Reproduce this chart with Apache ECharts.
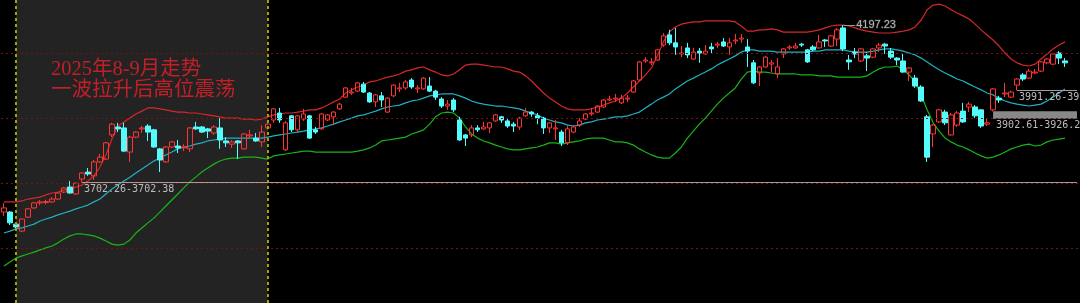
<!DOCTYPE html>
<html><head><meta charset="utf-8">
<script src="https://cdn.jsdelivr.net/npm/echarts@6/dist/echarts.min.js"></script>
<style>html,body{margin:0;padding:0;background:#000}#c{width:1080px;height:303px}</style>
</head><body><div id="c"></div>
<script>
const categories = Array.from({length: 180}, (_, i) => 'K' + (i + 1));
const opens = [3609,3609,3571,3549,3593,3622,3638,3639,3641,3650,3672,3688,3666,3713,3735,3723,3767,3776,3852,3877,3874,3798,3845,3871,3880,3868,3808,3767,3814,3817,3811,3808,3877,3877,3871,3858,3874,3833,3823,3833,3808,3849,3842,3830,3874,3899,3921,3805,3912,3868,3902,3912,3868,3871,3899,3909,3934,3971,3984,3990,4012,3984,3956,3975,3924,3975,3997,4000,4025,3997,3997,4006,3990,3965,3943,3962,3899,3852,3852,3874,3871,3874,3896,3909,3896,3886,3877,3912,3924,3912,3905,3874,3871,3861,3827,3861,3883,3902,3918,3924,3940,3962,3965,3953,3965,3987,4025,4085,4079,4088,4135,4167,4142,4107,4126,4091,4116,4107,4129,4135,4145,4129,4148,4154,4129,4079,4047,4066,4075,4044,4107,4126,4126,4138,4120,4129,4126,4151,4132,4154,4189,4088,4113,4085,4101,4097,4126,4138,4116,4094,4085,4050,4031,4003,3909,3855,3893,3924,3852,3883,3927,3940,3940,3931,3886,3931,3968,3981,3971,4009,4041,4031,4047,4053,4079,4075,4110,4085];
const closes = [3622,3575,3562,3587,3619,3638,3641,3642,3650,3669,3685,3669,3700,3732,3729,3767,3782,3827,3886,3871,3801,3845,3861,3874,3861,3814,3773,3814,3830,3811,3814,3874,3871,3861,3864,3877,3836,3827,3830,3827,3855,3852,3833,3861,3886,3934,3899,3890,3868,3912,3918,3842,3861,3918,3915,3924,3949,4000,3987,4016,3987,3956,3978,3962,3968,4009,4000,4019,4003,4000,4031,3990,3971,3943,3949,3931,3836,3842,3874,3868,3877,3890,3915,3899,3880,3880,3905,3924,3918,3905,3874,3890,3874,3827,3871,3877,3896,3918,3921,3943,3962,3965,3968,3968,3968,4022,4082,4088,4082,4120,4164,4142,4129,4110,4104,4113,4110,4116,4123,4138,4132,4142,4151,4157,4116,4016,4066,4097,4079,4066,4123,4129,4132,4135,4082,4120,4145,4148,4164,4183,4123,4082,4107,4123,4094,4123,4135,4132,4097,4088,4050,4063,4006,3959,3782,3883,3931,3890,3915,3921,3893,3949,3912,3880,3890,3997,3962,3984,3987,4028,4028,4053,4050,4082,4091,4107,4094,4079];
const lows = [3597,3568,3556,3546,3590,3619,3631,3633,3638,3648,3669,3667,3663,3702.38,3723,3710,3764,3773,3845,3861,3798,3767,3842,3858,3833,3811,3735,3764,3811,3795,3801,3798,3868,3858,3842,3852,3808,3814,3811,3776,3805,3842,3830,3814,3868,3890,3890,3801,3861,3861,3896,3839,3855,3868,3896,3883,3931,3968,3978,3987,3984,3953,3940,3940,3921,3971,3987,3994,3997,3984,3994,3987,3962,3937,3931,3924,3833,3817,3845,3861,3868,3858,3893,3890,3874,3861,3868,3909,3909,3886,3855,3858,3836,3817,3820,3858,3877,3899,3912,3921,3937,3959,3956,3949,3956,3984,4022,4079,4072,4085,4129,4135,4104,4097,4094,4088,4079,4104,4110,4126,4129,4104,4138,4142,4066,4012,4006,4063,4050,4031,4094,4120,4123,4129,4079,4116,4124,4129,4129,4132,4116,4057,4094,4082,4053,4094,4113,4107,4091,4072,4047,4022,4000,3956,3767,3814,3890,3883,3850,3877,3890,3924,3905,3874,3880,3926.2,3953,3971,3968,3992.15,4022,4028,4044,4050,4075,4072,4075,4066];
const highs = [3638,3612,3575,3589,3622,3641,3647,3648,3656,3672,3688,3707,3702.26,3735,3748,3773,3792,3830,3890,3890,3890,3849,3864,3880,3886,3871,3811,3817,3833,3836,3823,3877,3893,3880,3874,3883,3905,3845,3836,3836,3858,3868,3858,3883,3899,3937,3937,3896,3915,3915,3934,3915,3877,3921,3918,3927,3953,4003,4000,4019,4019,3987,3981,3987,3971,4012,4016,4025,4031,4009,4034,4034,3994,3971,3962,3968,3909,3855,3883,3883,3893,3893,3918,3912,3905,3893,3909,3937,3927,3921,3909,3893,3899,3868,3880,3883,3905,3921,3937,3946,3965,3975,3981,3978,3978,4025,4085,4097,4094,4123,4173,4183,4189,4132,4142,4126,4126,4135,4142,4145,4157,4157,4170,4170,4154,4088,4069,4101,4088,4094,4126,4135,4142,4142,4123,4135,4167,4154,4167,4189,4197.23,4104,4126,4126,4113,4126,4142,4142,4126,4097,4110,4066,4041,4009,3915,3886,3934,3931,3921,3927,3953,3956,3946,3932,3902.61,4000,3975,4016,3991.26,4031,4047,4060,4060,4085,4094,4110,4116,4094];
const bollUpper = [3641,3641,3641,3644,3650,3653,3656,3663,3669,3672,3679,3682,3688,3694,3707,3723,3751,3789,3839,3880,3893,3905,3918,3927,3937,3937,3934,3931,3927,3924,3924,3921,3921,3918,3915,3912,3909,3905,3905,3905,3902,3902,3899,3902,3909,3915,3918,3921,3921,3924,3927,3931,3931,3937,3946,3956,3965,3984,3994,4003,4009,4019,4022,4028,4034,4038,4044,4053,4057,4063,4066,4057,4050,4041,4038,4044,4057,4072,4075,4075,4072,4069,4066,4066,4060,4053,4050,4038,4022,4003,3984,3968,3956,3943,3934,3931,3931,3931,3934,3940,3946,3953,3959,3968,3984,4003,4022,4041,4063,4101,4145,4176,4192,4201,4205,4208,4208,4211,4211,4211,4211,4211,4208,4195,4179,4179,4183,4183,4186,4183,4176,4176,4176,4176,4176,4179,4183,4189,4195,4198,4198,4195,4189,4183,4179,4176,4173,4173,4173,4176,4179,4183,4192,4214,4246,4261,4264,4258,4246,4236,4227,4217,4201,4183,4167,4151,4132,4110,4091,4079,4072,4069,4075,4091,4107,4123,4135,4145];
const bollMid = [3543,3549,3556,3559,3565,3571,3581,3587,3593,3600,3606,3612,3619,3625,3631,3641,3650,3666,3682,3694,3707,3719,3732,3745,3757,3770,3779,3789,3798,3808,3814,3817,3823,3827,3833,3836,3839,3842,3842,3842,3842,3842,3842,3842,3845,3849,3852,3855,3858,3861,3864,3868,3871,3874,3880,3886,3893,3899,3905,3912,3915,3921,3927,3934,3940,3943,3946,3953,3959,3962,3968,3975,3978,3981,3981,3981,3975,3968,3959,3953,3949,3946,3943,3943,3940,3937,3934,3927,3921,3915,3905,3899,3893,3890,3883,3880,3883,3890,3893,3899,3902,3905,3909,3909,3912,3918,3924,3937,3949,3962,3971,3981,3997,4009,4022,4031,4041,4050,4060,4072,4082,4091,4101,4113,4120,4120,4116,4116,4116,4113,4113,4113,4113,4113,4113,4116,4116,4120,4120,4120,4120,4116,4113,4113,4113,4116,4120,4123,4123,4120,4116,4110,4104,4094,4082,4069,4057,4047,4038,4028,4022,4012,4003,3994,3984,3978,3968,3959,3953,3949,3946,3943,3946,3949,3959,3971,3984,3997];
const bollLower = [3439,3452,3464,3471,3477,3483,3490,3496,3502,3512,3524,3534,3540,3540,3537,3534,3527,3518,3508,3505,3508,3521,3543,3559,3575,3590,3609,3628,3647,3666,3685,3704,3719,3735,3748,3760,3770,3776,3779,3779,3782,3782,3782,3779,3776,3786,3789,3792,3795,3798,3801,3801,3798,3798,3798,3798,3798,3798,3798,3801,3805,3811,3820,3833,3836,3839,3842,3845,3855,3861,3868,3886,3909,3921,3924,3921,3905,3877,3855,3842,3833,3827,3820,3814,3808,3805,3805,3808,3811,3814,3820,3827,3827,3823,3827,3830,3833,3839,3842,3842,3842,3836,3830,3830,3827,3820,3808,3798,3789,3782,3779,3779,3795,3814,3842,3864,3886,3905,3927,3949,3968,3984,4000,4028,4050,4053,4050,4050,4047,4044,4044,4044,4044,4041,4041,4041,4038,4038,4038,4034,4034,4034,4034,4034,4038,4050,4060,4066,4066,4069,4057,4041,4019,3978,3931,3890,3864,3842,3830,3820,3814,3805,3795,3786,3779,3782,3789,3798,3808,3814,3820,3823,3817,3820,3830,3836,3839,3842];
const gridLevels = [4109, 3904, 3700, 3495];
const highlightSpan = [2, 44];
const gapLines = [
  {from: 13, value: 3702.26, text: '3702.26-3702.38'},
  {from: 169, value: 3991.26, text: '3991.26-3992.15'}
];
const gapBox = {from: 165, low: 3902.61, high: 3926.2, text: '3902.61-3926.20'};
const peak = {index: 140, value: 4197.23, text: '4197.23'};
const noteLines = ['2025年8-9月走势', '一波拉升后高位震荡'];

const ohlc = opens.map((o, i) => [o, closes[i], lows[i], highs[i]]);
const lastIdx = categories.length - 1;
const mono = '"DejaVu Sans Mono", "Liberation Mono", monospace';

const markLineData = [];
gridLevels.forEach(v => markLineData.push({yAxis: v, lineStyle: {color: '#7a1010', type: [2, 3], width: 1}, label: {show: false}}));
highlightSpan.forEach(ix => markLineData.push({xAxis: categories[ix], lineStyle: {color: '#a4a400', type: [3, 3], width: 2}, label: {show: false}}));
gapLines.forEach(g => markLineData.push([
  {coord: [categories[g.from], g.value], lineStyle: {color: '#a89a9a', type: 'solid', width: 1},
   label: {show: true, formatter: g.text, position: 'insideStartBottom', distance: 2, color: '#bdbdbd', fontFamily: mono, fontSize: 10}},
  {coord: [categories[lastIdx], g.value]}
]));
markLineData.push([
  {coord: [categories[peak.index], peak.value], lineStyle: {color: '#9a9a9a', type: 'solid', width: 1},
   label: {show: true, formatter: peak.text, position: 'end', distance: 1, color: '#b4b4b4', fontFamily: '"Liberation Sans", Arial, sans-serif', fontSize: 11, textBorderColor: '#333', textBorderWidth: 1}},
  {coord: [categories[peak.index + 2], peak.value]}
]);

const chart = echarts.init(document.getElementById('c'), null, {renderer: 'canvas'});
chart.setOption({
  backgroundColor: '#000',
  animation: false,
  title: {
    text: noteLines.join('\n'), left: 51, top: 59, padding: 0, itemGap: 0,
    textStyle: {color: '#c41f28', fontSize: 20.5, fontWeight: 'normal', lineHeight: 21, fontFamily: '"Liberation Serif", "Noto Sans CJK SC", serif'}
  },
  grid: {left: 1, top: 0, width: 1080, height: 303},
  xAxis: {type: 'category', data: categories, boundaryGap: true, show: false},
  yAxis: {type: 'value', min: 3322.55, max: 4277, show: false, splitLine: {show: false}},
  series: [
    {type: 'line', data: bollUpper, showSymbol: false, z: 2, lineStyle: {color: '#d42828', width: 1.2}},
    {type: 'line', data: bollMid, showSymbol: false, z: 2, lineStyle: {color: '#1fb0c4', width: 1.2}},
    {type: 'line', data: bollLower, showSymbol: false, z: 2, lineStyle: {color: '#18b418', width: 1.2}},
    {
      type: 'candlestick', data: ohlc, barWidth: 5, z: 3,
      itemStyle: {color: 'rgba(0,0,0,0)', color0: '#54fcfc', borderColor: '#ff3434', borderColor0: '#54fcfc', borderWidth: 1},
      markArea: {
        silent: true,
        data: [
          [{xAxis: categories[highlightSpan[0]], itemStyle: {color: '#232323'}}, {xAxis: categories[highlightSpan[1]]}],
          [{coord: [categories[gapBox.from], gapBox.low], itemStyle: {color: '#888888'},
            label: {show: true, formatter: gapBox.text, position: [3, '100%'], offset: [0, 2], color: '#bdbdbd', fontFamily: mono, fontSize: 10}},
           {coord: [categories[lastIdx], gapBox.high]}]
        ]
      },
      markLine: {silent: true, symbol: ['none', 'none'], data: markLineData}
    }
  ]
});
</script></body></html>
